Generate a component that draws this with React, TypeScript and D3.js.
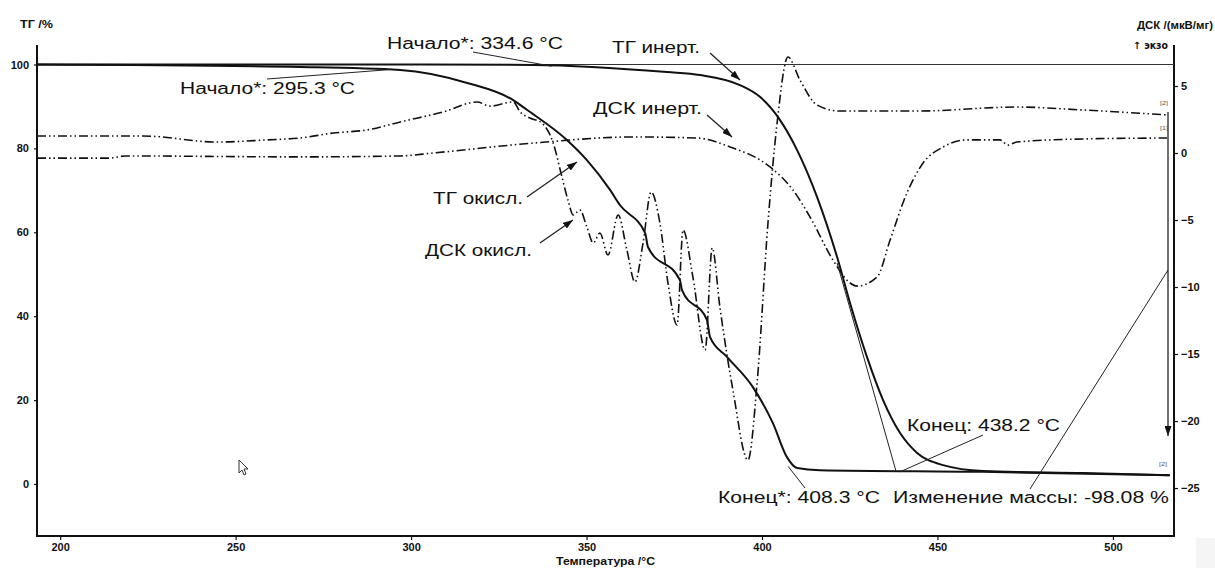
import React, { useRef, useEffect } from 'react';
import * as d3 from 'd3';

// [температура °C, ТГ %]
const tgInert: [number, number][] = [
  [193.4, 100], [296.9, 100], [334.8, 99.9], [372.9, 98.2], [382.3, 97.5], [393.7, 95.1],
  [399.4, 92.3], [405.1, 86.8], [410.0, 79.6], [415.7, 68.4], [421.4, 54.1], [425.1, 43.1],
  [429.9, 30.3], [434.5, 20.0], [439.3, 12.2], [444.2, 7.4], [451.6, 4.5], [463.0, 3.1],
  [491.5, 2.6], [516.2, 2.1],
];

const tgOxid: [number, number][] = [
  [193.4, 100], [268.4, 99.4], [296.9, 98.7], [316.0, 95.6], [329.1, 91.5], [333.0, 89.2],
  [344.4, 82.0], [350.1, 77.2], [356.7, 70.1], [359.5, 66.5], [366.7, 59.8], [367.5, 56.5],
  [376.6, 48.6], [377.2, 46.2], [384.3, 39.1], [385.2, 35.0], [390.0, 30.3], [397.4, 23.1],
  [403.1, 14.5], [407.1, 6.4], [410.0, 3.8], [416.5, 3.3], [463.0, 2.9], [516.2, 2.1],
];

// [температура °C, ДСК мкВ/мг]
const dscInert: [number, number][] = [
  [193.4, -0.38], [214.2, -0.38], [218.5, -0.22], [268.4, -0.29], [296.9, -0.22], [306.3, 0.0],
  [334.8, 0.74], [363.2, 1.2], [381.5, 1.12], [390.9, 0.45], [402.3, -1.04], [408.8, -2.76],
  [413.7, -4.78], [420.2, -7.98], [425.1, -9.7], [427.1, -9.93], [432.8, -9.25], [436.5, -6.49],
  [441.3, -2.98], [445.9, -0.75], [451.6, 0.45], [458.4, 0.98], [467.8, 0.98], [470.1, 0.59],
  [472.6, 0.82], [491.5, 1.05], [515.4, 1.12],
];

const dscOxid: [number, number][] = [
  [193.4, 1.27], [223.6, 1.27], [244.7, 0.82], [259.0, 0.98], [268.4, 1.12], [277.8, 1.49],
  [287.5, 1.72], [296.9, 2.32], [309.1, 3.06], [318.8, 3.81], [322.5, 3.5], [329.1, 3.81],
  [331.1, 3.06], [333.9, 2.61], [337.3, 2.23], [340.5, 0.74], [343.0, -1.8], [344.7, -3.51],
  [346.2, -4.63], [348.1, -4.25], [350.1, -5.52], [351.9, -6.71], [353.8, -5.97], [356.1, -7.61],
  [359.0, -4.63], [361.5, -7.24], [363.8, -9.62], [366.1, -6.71], [368.4, -2.91], [370.9, -5.22],
  [373.2, -9.7], [375.8, -12.84], [377.5, -5.75], [380.3, -9.25], [383.8, -14.7], [385.8, -7.09],
  [388.0, -11.5], [391.7, -17.68], [396.0, -22.91], [398.6, -17.16], [401.7, -5.22], [404.3, 2.23],
  [407.4, 7.16], [410.8, 5.45], [415.7, 3.58], [422.2, 3.13], [444.2, 3.13], [472.6, 3.43],
  [491.5, 3.21], [515.4, 2.84],
];

const xTicks = [200, 250, 300, 350, 400, 450, 500];
const tgTicks = [0, 20, 40, 60, 80, 100];
const dscTicks = [-25, -20, -15, -10, -5, 0, 5];

const FONT = '"Liberation Sans", Arial, sans-serif';

const App = () => {
  const svgRef = useRef<SVGSVGElement>(null);

  useEffect(() => {
    const svg = d3.select(svgRef.current);
    svg.selectAll('*').remove();

    const left = 37, right = 1174, top = 45, bottom = 536;
    const x = d3.scaleLinear().domain([193.4, 517.4]).range([left, right]);
    const yTG = d3.scaleLinear().domain([-12.4, 104.65]).range([bottom, top]);
    const yDSC = d3.scaleLinear().domain([-28.58, 8.06]).range([bottom, top]);

    svg.append('rect').attr('width', 1215).attr('height', 568).attr('fill', '#fff');
    svg.append('rect').attr('x', 1196).attr('y', 538).attr('width', 19).attr('height', 30).attr('fill', '#f5f5f5');

    const defs = svg.append('defs');
    defs.append('marker')
      .attr('id', 'ah').attr('viewBox', '0 0 10 7').attr('refX', 10).attr('refY', 3.5)
      .attr('markerWidth', 10).attr('markerHeight', 7).attr('markerUnits', 'userSpaceOnUse')
      .attr('orient', 'auto')
      .append('path').attr('d', 'M0,0 L10,3.5 L0,7 Z').attr('fill', '#111');

    // axes
    const gx = svg.append('g').attr('transform', `translate(0,${bottom})`);
    gx.call(d3.axisBottom(x).tickValues(d3.range(200, 520, 10)).tickSize(3).tickFormat(() => ''));
    gx.call(d3.axisBottom(x).tickValues(xTicks).tickSize(4).tickPadding(3).tickFormat(d3.format('d')));
    gx.selectAll('.domain').remove();

    const gl = svg.append('g').attr('transform', `translate(${left},0)`);
    gl.call(d3.axisLeft(yTG).tickValues(d3.range(-10, 101, 10)).tickSize(3).tickFormat(() => ''));
    gl.call(d3.axisLeft(yTG).tickValues(tgTicks).tickSize(3).tickPadding(5).tickFormat(d3.format('d')));
    gl.selectAll('.domain').remove();

    const gr = svg.append('g').attr('transform', `translate(${right},0)`);
    gr.call(d3.axisRight(yDSC).tickValues(d3.range(-28, 9, 1)).tickSize(3).tickFormat(() => ''));
    gr.call(d3.axisRight(yDSC).tickValues(dscTicks).tickSize(4).tickPadding(3).tickFormat(d3.format('d')));
    gr.selectAll('.domain').remove();

    svg.selectAll('.tick line').attr('stroke', '#111').attr('stroke-width', 1.2);
    svg.selectAll('.tick text').attr('font-family', FONT).attr('font-size', 11)
      .attr('font-weight', 'bold').attr('fill', '#111');

    const axisPath = d3.path();
    axisPath.moveTo(left, top); axisPath.lineTo(left, bottom); axisPath.lineTo(right, bottom); axisPath.lineTo(right, top);
    svg.append('path').attr('d', axisPath.toString()).attr('fill', 'none').attr('stroke', '#111').attr('stroke-width', 2);

    // reference 100 % line
    svg.append('line').attr('x1', left).attr('x2', right).attr('y1', yTG(100)).attr('y2', yTG(100))
      .attr('stroke', '#333').attr('stroke-width', 1);

    const lineTG = d3.line<[number, number]>().x(d => x(d[0])).y(d => yTG(d[1])).curve(d3.curveMonotoneX);
    const lineDSC = d3.line<[number, number]>().x(d => x(d[0])).y(d => yDSC(d[1])).curve(d3.curveMonotoneX);

    [dscInert, dscOxid].forEach(s => {
      svg.append('path').attr('d', lineDSC(s)).attr('fill', 'none').attr('stroke', '#111')
        .attr('stroke-width', 1.6).attr('stroke-dasharray', '9,3,1.5,3,1.5,3');
    });
    [tgInert, tgOxid].forEach(s => {
      svg.append('path').attr('d', lineTG(s)).attr('fill', 'none').attr('stroke', '#111')
        .attr('stroke-width', 2);
    });

    // thin construction / leader lines
    const thin = (x1: number, y1: number, x2: number, y2: number, arrow = false) => {
      const l = svg.append('line').attr('x1', x1).attr('y1', y1).attr('x2', x2).attr('y2', y2)
        .attr('stroke', '#222').attr('stroke-width', 1);
      if (arrow) l.attr('marker-end', 'url(#ah)').attr('stroke-width', 1.3);
    };
    thin(267, 79, x(295.3) - 4, yTG(98.8));
    thin(473, 52, x(340), yTG(99.6));
    thin(x(421.4), yTG(54.1) + 6, x(438.2), yTG(3.0));
    thin(983, 435, x(438.2) + 4, yTG(2.9));
    thin(x(408.3) - 3, yTG(4.2), 805, 488);
    thin(1030, 489, 1168, 270);
    thin(1168, 112, 1168, 436, true);

    // annotation arrows
    thin(710, 53, 740, 80, true);
    thin(707, 115, 732, 137, true);
    thin(527, 197, 577, 162, true);
    thin(540, 243, 573, 220, true);

    // texts
    const txt = (s: string, x0: number, x1: number, yc: number, size: number, weight = 'normal', family = FONT, fill = '#111') => {
      svg.append('text').attr('x', x0).attr('y', yc).attr('dominant-baseline', 'central')
        .attr('font-family', family).attr('font-size', size).attr('font-weight', weight).attr('fill', fill)
        .attr('textLength', x1 - x0).attr('lengthAdjust', 'spacingAndGlyphs').text(s);
    };
    txt('ТГ /%', 20, 53, 24, 10, 'bold');
    txt('ДСК /(мкВ/мг)', 1137, 1213, 25, 10, 'bold');
    txt('↑ экзо', 1133, 1168, 45, 10, 'bold', '"DejaVu Sans", sans-serif');
    txt('Температура /°C', 556, 655, 561, 10, 'bold');
    txt('Начало*: 334.6 °C', 387, 563, 43, 16);
    txt('ТГ инерт.', 612, 700, 47, 17);
    txt('Начало*: 295.3 °C', 180, 355, 88, 16);
    txt('ДСК инерт.', 593, 702, 108, 17);
    txt('ТГ окисл.', 433, 523, 198, 17);
    txt('ДСК окисл.', 425, 532, 250, 17);
    txt('Конец: 438.2 °C', 907, 1060, 425, 16);
    txt('Конец*: 408.3 °C', 718, 880, 497, 16);
    txt('Изменение массы: -98.08 %', 893, 1169, 497, 16);
    txt('[2]', 1160, 1168, 103, 6, 'normal', FONT, '#555');
    txt('[1]', 1160, 1168, 128, 6, 'normal', FONT, '#555');
    txt('[2]', 1159, 1167, 464, 6, 'normal', FONT, '#555');

    // mouse cursor
    svg.append('path').attr('d', 'M239,460 L239,473 L242,470 L244,475 L246,474 L244,469 L248,469 Z')
      .attr('fill', '#fff').attr('stroke', '#333').attr('stroke-width', 1);
  }, []);

  return (
    <svg ref={svgRef} width={1215} height={568}
      style={{ position: 'absolute', left: 0, top: 0, display: 'block' }} />
  );
};

export default App;
